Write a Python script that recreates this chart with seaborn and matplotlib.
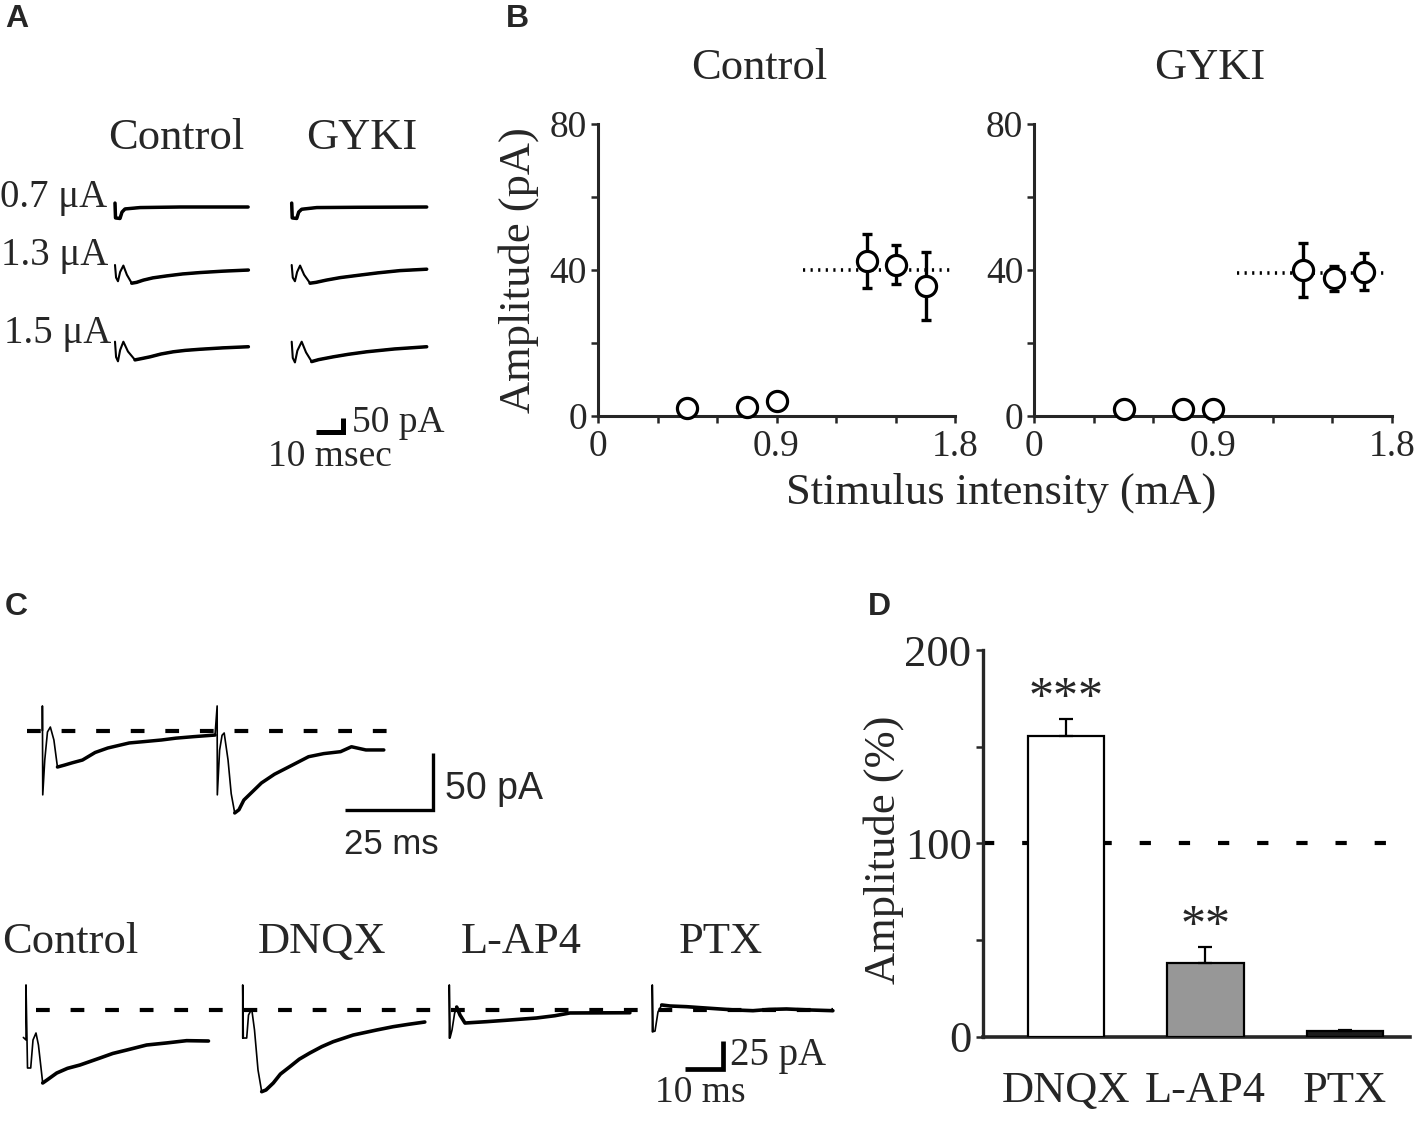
import numpy as np
import matplotlib
matplotlib.use("Agg")
import matplotlib.pyplot as plt
import seaborn as sns

# ---------------- data ----------------
# Panel A traces: time (ms) after stimulus, current (pA) relative to baseline
A_CTL_07_T = [0, 0.19, 1.85, 2.6, 3.7, 9.3, 24.1, 49.3]
A_CTL_07_I = [14, -39, -41, -18, -7, -2, 0, 0]
A_GYK_07_T = [0, 0.19, 1.85, 2.6, 3.7, 9.3, 24.1, 50]
A_GYK_07_I = [14, -39, -41, -18, -8, -2, -1, 0]
A_CTL_13_T = [0, 0.4, 1.1, 1.9, 3.1, 4.4, 6.2, 8.0, 10.5, 14.0, 19.1, 25.0, 31.5, 40.0, 49.4]
A_CTL_13_I = [0, -45, -58, -25, -2, -35, -65, -62, -54, -46, -39, -32, -27, -22, -18]
A_GYK_13_T = [0, 0.4, 1.2, 2.0, 3.1, 4.6, 6.8, 9.0, 12.8, 18, 25.3, 32, 40.1, 50]
A_GYK_13_I = [0, -45, -58, -25, -2, -35, -65, -62, -54, -45, -36, -28, -20, -15]
A_CTL_15_T = [0, 0.4, 1.1, 1.9, 3.1, 4.8, 7.4, 10, 13, 17, 21.6, 26, 31.5, 40, 49.4]
A_CTL_15_I = [0, -55, -70, -30, 0, -35, -65, -60, -54, -44, -36, -31, -27, -22, -18]
A_GYK_15_T = [0, 0.4, 1.2, 2.1, 3.7, 5.3, 7.4, 10, 15.4, 21, 27.8, 38, 50]
A_GYK_15_I = [0, -58, -74, -32, 0, -38, -71, -64, -54, -45, -36, -26, -18]
A_COLUMNS = ["Control", "GYKI"]
A_ROWS = ["0.7 \u03bcA", "1.3 \u03bcA", "1.5 \u03bcA"]
A_SCALE_MS, A_SCALE_PA = 10, 50

# Panel B
B_X_CTL = [0.45, 0.75, 0.90, 1.355, 1.50, 1.655]
B_Y_CTL = [2.1, 2.5, 4.2, 42.5, 41.5, 35.6]
B_E_CTL = [0, 0, 0, 7.4, 5.3, 9.4]
B_X_GYK = [0.45, 0.75, 0.90, 1.355, 1.51, 1.66]
B_Y_GYK = [2.0, 2.0, 2.0, 40.0, 37.7, 39.5]
B_E_GYK = [0, 0, 0, 7.5, 3.5, 5.1]
B_PLATEAU_CTL, B_PLATEAU_CTL_X = 40.0, (1.035, 1.78)
B_PLATEAU_GYK, B_PLATEAU_GYK_X = 39.2, (1.02, 1.76)
B_XTICKS = [0, 0.3, 0.6, 0.9, 1.2, 1.5, 1.8]
B_XLABELS = ["0", "", "", "0.9", "", "", "1.8"]
B_YTICKS = [0, 20, 40, 60, 80]
B_YLABELS = ["0", "", "40", "", "80"]

# Panel C top (paired pulse)
CT_T = [0, 0, 0.1, 0.67, 1.44, 2.26, 3.27, 4.28, 6.3, 8.5, 11.4, 15, 18.6, 24.7, 29, 33.9,
        38, 43, 49.1, 49.7, 49.75, 50.4, 51.1, 51.7, 52.8, 53.7, 54.7, 55.9, 57.3, 62.3,
        66, 69.5, 75.7, 80, 84.8, 87.9, 92, 97.1]
CT_I = [0, 21.6, -56, -25.6, -1.1, 3.2, -8.1, -31.7, -30, -28, -25.6, -19, -15.1, -10.7,
        -9.5, -8.1, -6.5, -5.2, -3.8, 21.6, -56, -17, -4, -2, -25.6, -55, -71.8, -69,
        -60.5, -45.6, -38, -32.5, -22.7, -20, -18.3, -14, -16.8, -16.8]
CT_BASE_T = (-4.4, 100.7)
CT_SCALE_MS, CT_SCALE_PA = 25, 50

# Panel C bottom
CB_NAMES = ["Control", "DNQX", "L-AP4", "PTX"]
CB_CTL_T = [-0.7, 0, 0, 0.4, 1.25, 1.86, 2.65, 3.3, 4.43, 5.57, 8.14, 11, 14.3, 19.6, 23,
            26.7, 32, 37.3, 42.6, 48.4]
CB_CTL_I = [-24, -26.2, 21.9, -50.7, -50.7, -26.2, -20.1, -30.6, -63.8, -61.2, -55.1, -51,
            -48.1, -42, -38, -35, -30.6, -28.8, -26.8, -27.1]
CB_DNQX_T = [0, 0, 0.16, 1.06, 1.54, 2.39, 3.13, 4.06, 5.04, 6.18, 8.12, 10, 12.5, 15,
             17.8, 21, 24, 29.3, 35.5, 39.9, 44, 48.3]
CB_DNQX_I = [-24.5, 21.9, -24.5, -24.5, -4.4, 0.9, -17.5, -52.4, -71.4, -69.9, -63.8, -56,
             -49.6, -43, -37.6, -32, -27.7, -21.9, -17.5, -14.6, -12.5, -10.5]
CB_LAP4_T = [0, 0, 0.19, 0.72, 1.4, 1.96, 2.84, 4.16, 6, 9.9, 15, 23.1, 28, 32, 40, 47.9]
CB_LAP4_I = [-24.5, 21.9, -24.5, -17.5, -3, 2.6, -4.4, -11.4, -11, -10.2, -9, -7, -5,
             -2.6, -2.5, -2.4]
CB_PTX_T = [0, 0, 0.19, 0.72, 1.51, 2.49, 4.7, 9.1, 13, 17.9, 22, 26.7, 31, 35.6, 42, 47.9]
CB_PTX_I = [-19, 21.9, -19, -18.4, -1.7, 4.4, 3.5, 2.9, 2, 0.9, 0, -0.6, 0.5, 0.9, 0, -0.6]
CB_BASE_T = (2.65, 214)
CB_SCALE_MS, CB_SCALE_PA = 10, 25

# Panel D
D_CATS = ["DNQX", "L-AP4", "PTX"]
D_VALS = [155.5, 38.0, 3.0]
D_ERRS = [8.7, 8.4, 0.6]
D_STARS = ["***", "**", ""]
D_CONTROL = 100
D_YTICKS = [0, 50, 100, 150, 200]
D_YLABELS = ["0", "", "100", "", "200"]

# ---------------- figure ----------------
sns.set_style("ticks")
plt.rcParams["font.family"] = ["Liberation Serif", "DejaVu Serif"]
plt.rcParams["axes.linewidth"] = 2.2

W, H = 1418, 1139
fig = plt.figure(figsize=(W / 100, H / 100), dpi=100)
fig.patch.set_facecolor("white")


def box(l, t, r, b):
    return [l / W, 1 - b / H, (r - l) / W, (b - t) / H]


def ftext(x, y, s, size, ha="center", va="center", **kw):
    fig.text(x / W, 1 - y / H, s, fontsize=size, ha=ha, va=va, **kw)


def trace_ax(x0, y0, sx, sy, tlim=(-20, 260), ilim=(-150, 80)):
    l = x0 + tlim[0] * sx
    r = x0 + tlim[1] * sx
    top = y0 - ilim[1] * sy
    bot = y0 - ilim[0] * sy
    ax = fig.add_axes(box(l, top, r, bot))
    ax.set_xlim(tlim)
    ax.set_ylim(ilim)
    ax.axis("off")
    return ax


def draw_trace(ax, t, i, windows, thin=1.2, thick=2.6):
    t = np.asarray(t, float)
    i = np.asarray(i, float)
    ax.plot(t, i, color="black", lw=thin, clip_on=False, solid_joinstyle="round")
    th = i.copy()
    for a, b in windows:
        th[(t > a) & (t < b)] = np.nan
    ax.plot(t, th, color="black", lw=thick, clip_on=False, solid_joinstyle="round",
            solid_capstyle="round")


def scale_bar(ax, ms, pa, lw):
    ax.plot([-ms, 0, 0], [0, 0, pa], color="black", lw=lw, clip_on=False,
            solid_joinstyle="miter", solid_capstyle="butt")


# ---- Panel A ----
sxA, syA = 2.7, 0.28
colx = [115, 291.7]
rowy = [207, 265, 341.7]
A_traces = [
    [(A_CTL_07_T, A_CTL_07_I, []), (A_GYK_07_T, A_GYK_07_I, [])],
    [(A_CTL_13_T, A_CTL_13_I, [(-1, 6.2)]), (A_GYK_13_T, A_GYK_13_I, [(-1, 6.8)])],
    [(A_CTL_15_T, A_CTL_15_I, [(-1, 7.4)]), (A_GYK_15_T, A_GYK_15_I, [(-1, 7.4)])],
]
for r, row in enumerate(A_traces):
    for c, (t, i, win) in enumerate(row):
        ax = trace_ax(colx[c], rowy[r], sxA, syA, tlim=(-5, 60), ilim=(-120, 60))
        draw_trace(ax, t, i, win, thin=1.5, thick=2.5)
axs = trace_ax(342.7, 431.7, sxA, syA, tlim=(-15, 5), ilim=(-10, 60))
scale_bar(axs, A_SCALE_MS, A_SCALE_PA, 3.6)

ftext(176, 138, A_COLUMNS[0], 32)
ftext(362, 138, A_COLUMNS[1], 32)
ftext(0, 198, A_ROWS[0], 28, ha="left")
ftext(1, 256, A_ROWS[1], 28, ha="left")
ftext(4, 334, A_ROWS[2], 28, ha="left")
ftext(352, 423, "50 pA", 27, ha="left")
ftext(268, 457, "10 msec", 27, ha="left")

# ---- Panel B ----
def panel_b(rect, xs, ys, es, plateau, prange):
    ax = fig.add_axes(rect)
    xs_e = [x for x, e in zip(xs, es) if e > 0]
    ys_e = [y for y, e in zip(ys, es) if e > 0]
    ee = [e for e in es if e > 0]
    ax.plot(prange, [plateau, plateau], ls=(0, (0.6, 1.5)), color="black", lw=2.6,
            zorder=2, clip_on=False)
    ax.errorbar(xs_e, ys_e, yerr=ee, fmt="none", ecolor="black", elinewidth=2.4,
                capsize=3.5, capthick=2.4, zorder=3)
    sns.scatterplot(x=xs, y=ys, ax=ax, s=210, color="white", edgecolor="black",
                    linewidth=2.3, zorder=5, clip_on=False)
    ax.set_xlim(0, 1.8)
    ax.set_ylim(0, 80)
    ax.set_xticks(B_XTICKS)
    ax.set_xticklabels(B_XLABELS)
    ax.set_yticks(B_YTICKS)
    ax.set_yticklabels(B_YLABELS)
    ax.tick_params(direction="out", length=5, width=1.8, labelsize=27, pad=5)
    ax.tick_params(axis="y", pad=3)
    sns.despine(ax=ax)
    ax.spines["left"].set_linewidth(2.2)
    ax.spines["bottom"].set_linewidth(2.2)
    ax.patch.set_alpha(0)
    return ax


panel_b(box(598, 124, 955, 416), B_X_CTL, B_Y_CTL, B_E_CTL, B_PLATEAU_CTL, B_PLATEAU_CTL_X)
panel_b(box(1034.3, 124, 1391.7, 416), B_X_GYK, B_Y_GYK, B_E_GYK, B_PLATEAU_GYK,
        B_PLATEAU_GYK_X)
ftext(759, 68, "Control", 32)
ftext(1210, 68, "GYKI", 32)
ftext(519, 270, "Amplitude (pA)", 32, rotation=90)
ftext(1001, 493, "Stimulus intensity (mA)", 32)

# ---- Panel C top ----
sxT, syT = 3.516, 1.146
axc = trace_ax(42.4, 730.7, sxT, syT, tlim=(-10, 110), ilim=(-80, 30))
axc.plot(CT_BASE_T, [0, 0], color="black", lw=3.0, dashes=(3.3, 5.0), clip_on=False)
draw_trace(axc, CT_T, CT_I, [(-1, 4.28), (49.1, 54.7)], thin=1.2, thick=2.5)
axcs = trace_ax(432.5, 810, sxT, syT, tlim=(-30, 5), ilim=(-5, 55))
scale_bar(axcs, CT_SCALE_MS, CT_SCALE_PA, 2.4)
ftext(445, 789, "50 pA", 27, ha="left", family="Liberation Sans")
ftext(391, 844, "25 ms", 25, family="Liberation Sans")

# ---- Panel C bottom ----
sxC, syC = 3.77, 1.144
cb = [
    (26, CB_CTL_T, CB_CTL_I, [(-2, 4.43)]),
    (242.7, CB_DNQX_T, CB_DNQX_I, [(-2, 5.04)]),
    (449.3, CB_LAP4_T, CB_LAP4_I, [(-2, 1.96)]),
    (652.3, CB_PTX_T, CB_PTX_I, [(-2, 2.49)]),
]
for k, (x0, t, i, win) in enumerate(cb):
    ax = trace_ax(x0, 1010, sxC, syC, tlim=(-5, 220 if k == 0 else 55), ilim=(-80, 30))
    if k == 0:
        ax.plot(CB_BASE_T, [0, 0], color="black", lw=3.0, dashes=(3.3, 5.0),
                clip_on=False, zorder=1)
    draw_trace(ax, t, i, win, thin=1.2, thick=2.6)
axbs = trace_ax(722.7, 1069.3, sxC, syC, tlim=(-15, 5), ilim=(-5, 30))
scale_bar(axbs, CB_SCALE_MS, CB_SCALE_PA, 3.4)
for name, cx in zip(CB_NAMES, [70, 322, 521, 721]):
    ftext(cx, 942, name, 32)
ftext(730, 1055, "25 pA", 28, ha="left")
ftext(655, 1093, "10 ms", 27, ha="left")

# ---- Panel D ----
axD = fig.add_axes(box(982.7, 650, 1410, 1036.7))
axD.axhline(D_CONTROL, color="black", lw=3.0, dashes=(2.7, 6.7), zorder=1)
sns.barplot(x=D_CATS, y=D_VALS, hue=D_CATS, palette=["white", "#979797", "#1c1c1c"],
            legend=False, width=0.545, edgecolor="black", linewidth=1.6, ax=axD,
            zorder=3, saturation=1)
axD.errorbar(range(len(D_CATS)), D_VALS, yerr=[np.zeros(3), D_ERRS], fmt="none",
             ecolor="black", elinewidth=1.6, capsize=5, capthick=1.6, zorder=4)
for k, (v, e, s) in enumerate(zip(D_VALS, D_ERRS, D_STARS)):
    if s:
        axD.text(k, v + e + 10.5, s, ha="center", va="center", fontsize=36)
axD.set_xlim(-0.597, 2.466)
axD.set_ylim(0, 200)
axD.set_yticks(D_YTICKS)
axD.set_yticklabels(D_YLABELS)
axD.tick_params(axis="y", direction="out", length=5, width=1.8, labelsize=32, pad=3)
axD.tick_params(axis="x", length=0, labelsize=32, pad=25)
sns.despine(ax=axD)
axD.spines["left"].set_linewidth(2.4)
axD.spines["bottom"].set_linewidth(2.6)
axD.set_xlabel("")
axD.set_ylabel("")
axD.patch.set_alpha(0)
ftext(884, 850, "Amplitude (%)", 32, rotation=90)

# ---- panel letters ----
for lab, x, y in [("A", 5, 19), ("B", 506, 19), ("C", 5, 607), ("D", 868, 607)]:
    ftext(x, y, lab, 23, ha="left", family="Liberation Sans", fontweight="bold")

fig.savefig("out.png", dpi=100, facecolor="white")
